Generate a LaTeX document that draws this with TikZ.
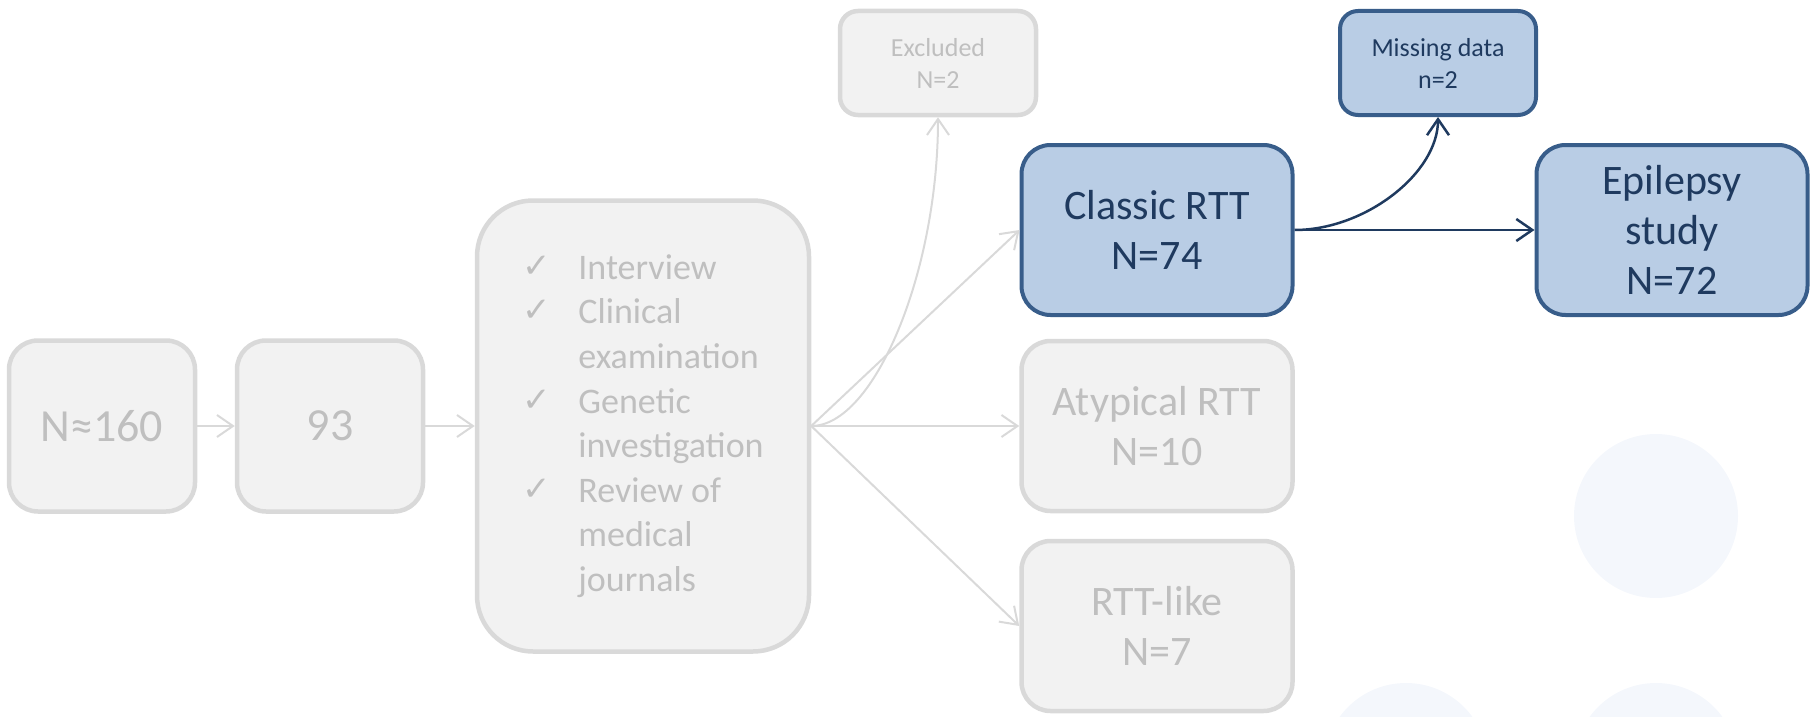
\documentclass[tikz,border=0pt]{standalone}
\usepackage{fontspec}
\setmainfont{Carlito}
\newfontfamily\checkfont{DejaVu Sans}
\usetikzlibrary{arrows.meta}

\definecolor{boxgray}{HTML}{F2F2F2}
\definecolor{linegray}{HTML}{D9D9D9}
\definecolor{textgray}{HTML}{BFBFBF}
\definecolor{boxblue}{HTML}{B9CDE5}
\definecolor{lineblue}{HTML}{385D8A}
\definecolor{textblue}{HTML}{1F3A5F}
\definecolor{dotblue}{HTML}{F4F7FC}

% tick mark in front of each list entry
\newcommand{\tickitem}{\makebox[56pt][l]{\raisebox{2pt}{\checkfont\fontsize{34}{34}\selectfont ✓}}}

\begin{document}
\begin{tikzpicture}[x=1pt,y=-1pt,
  greybox/.style={draw=linegray, line width=4.5pt, fill=boxgray, text=textgray,
                  align=center, inner sep=0pt},
  bluebox/.style={draw=lineblue, line width=4pt, fill=boxblue, text=textblue,
                  align=center, inner sep=0pt},
  wide/.style={minimum width=271pt, minimum height=170pt, rounded corners=29pt},
  small/.style={minimum width=196pt, minimum height=104pt, rounded corners=18pt,
                font=\fontsize{26}{32}\selectfont},
  square/.style={minimum width=186pt, minimum height=171pt, rounded corners=29pt,
                 font=\fontsize{46}{55}\selectfont},
  bigtext/.style={font=\fontsize{42}{50}\selectfont},
  greyarrow/.style={draw=linegray, line width=2pt,
                    -{Straight Barb[length=16pt,width=22pt]}},
  bluearrow/.style={draw=textblue, line width=2.5pt,
                    -{Straight Barb[length=16pt,width=22pt]}},
]
\useasboundingbox (0,0) rectangle (1818,717);

% pale decorative dots
\begin{scope}
  \clip (0,0) rectangle (1818,717);
  \fill[dotblue] (1656,516) circle (82);
  \fill[dotblue] (1406,765) circle (82);
  \fill[dotblue] (1656,765) circle (82);
\end{scope}

% screening chain
\node[greybox, square] (n160) at (102,426) {N≈160};
\node[greybox, square] (n93)  at (330,426) {93};
\node[greybox, minimum width=332pt, minimum height=451pt, rounded corners=56pt,
      align=left, font=\fontsize{36}{44.6}\selectfont] (screen) at (643,426)
  {\tickitem Interview\\
   \tickitem Clinical\\
   \hspace*{56pt}examination\\
   \tickitem Genetic\\
   \hspace*{56pt}investigation\\
   \tickitem Review of\\
   \hspace*{56pt}medical\\
   \hspace*{56pt}journals};

% outcome groups
\node[greybox, small] (excl) at (938,63) {Excluded\\N=2};
\node[bluebox, wide, bigtext] (classic) at (1157,230) {Classic RTT\\N=74};
\node[greybox, wide, bigtext] (atyp) at (1157,426) {Atypical RTT\\N=10};
\node[greybox, wide, bigtext] (rttl) at (1157,626) {RTT-like\\N=7};
\node[bluebox, small] (miss) at (1438,63) {Missing data\\n=2};
\node[bluebox, wide, bigtext] (epi) at (1672,230) {Epilepsy\\study\\N=72};

% connectors
\draw[greyarrow] (n160) -- (n93);
\draw[greyarrow] (n93) -- (screen);
\draw[greyarrow] (screen.east) .. controls +(63,0) and +(0,155) .. (excl.south);
\draw[greyarrow] (screen.east) -- (classic.west);
\draw[greyarrow] (screen.east) -- (atyp.west);
\draw[greyarrow] (screen.east) -- (rttl.west);
\draw[bluearrow] (classic.east) .. controls +(71,0) and +(0,56) .. (miss.south);
\draw[bluearrow] (classic.east) -- (epi.west);
\end{tikzpicture}
\end{document}
